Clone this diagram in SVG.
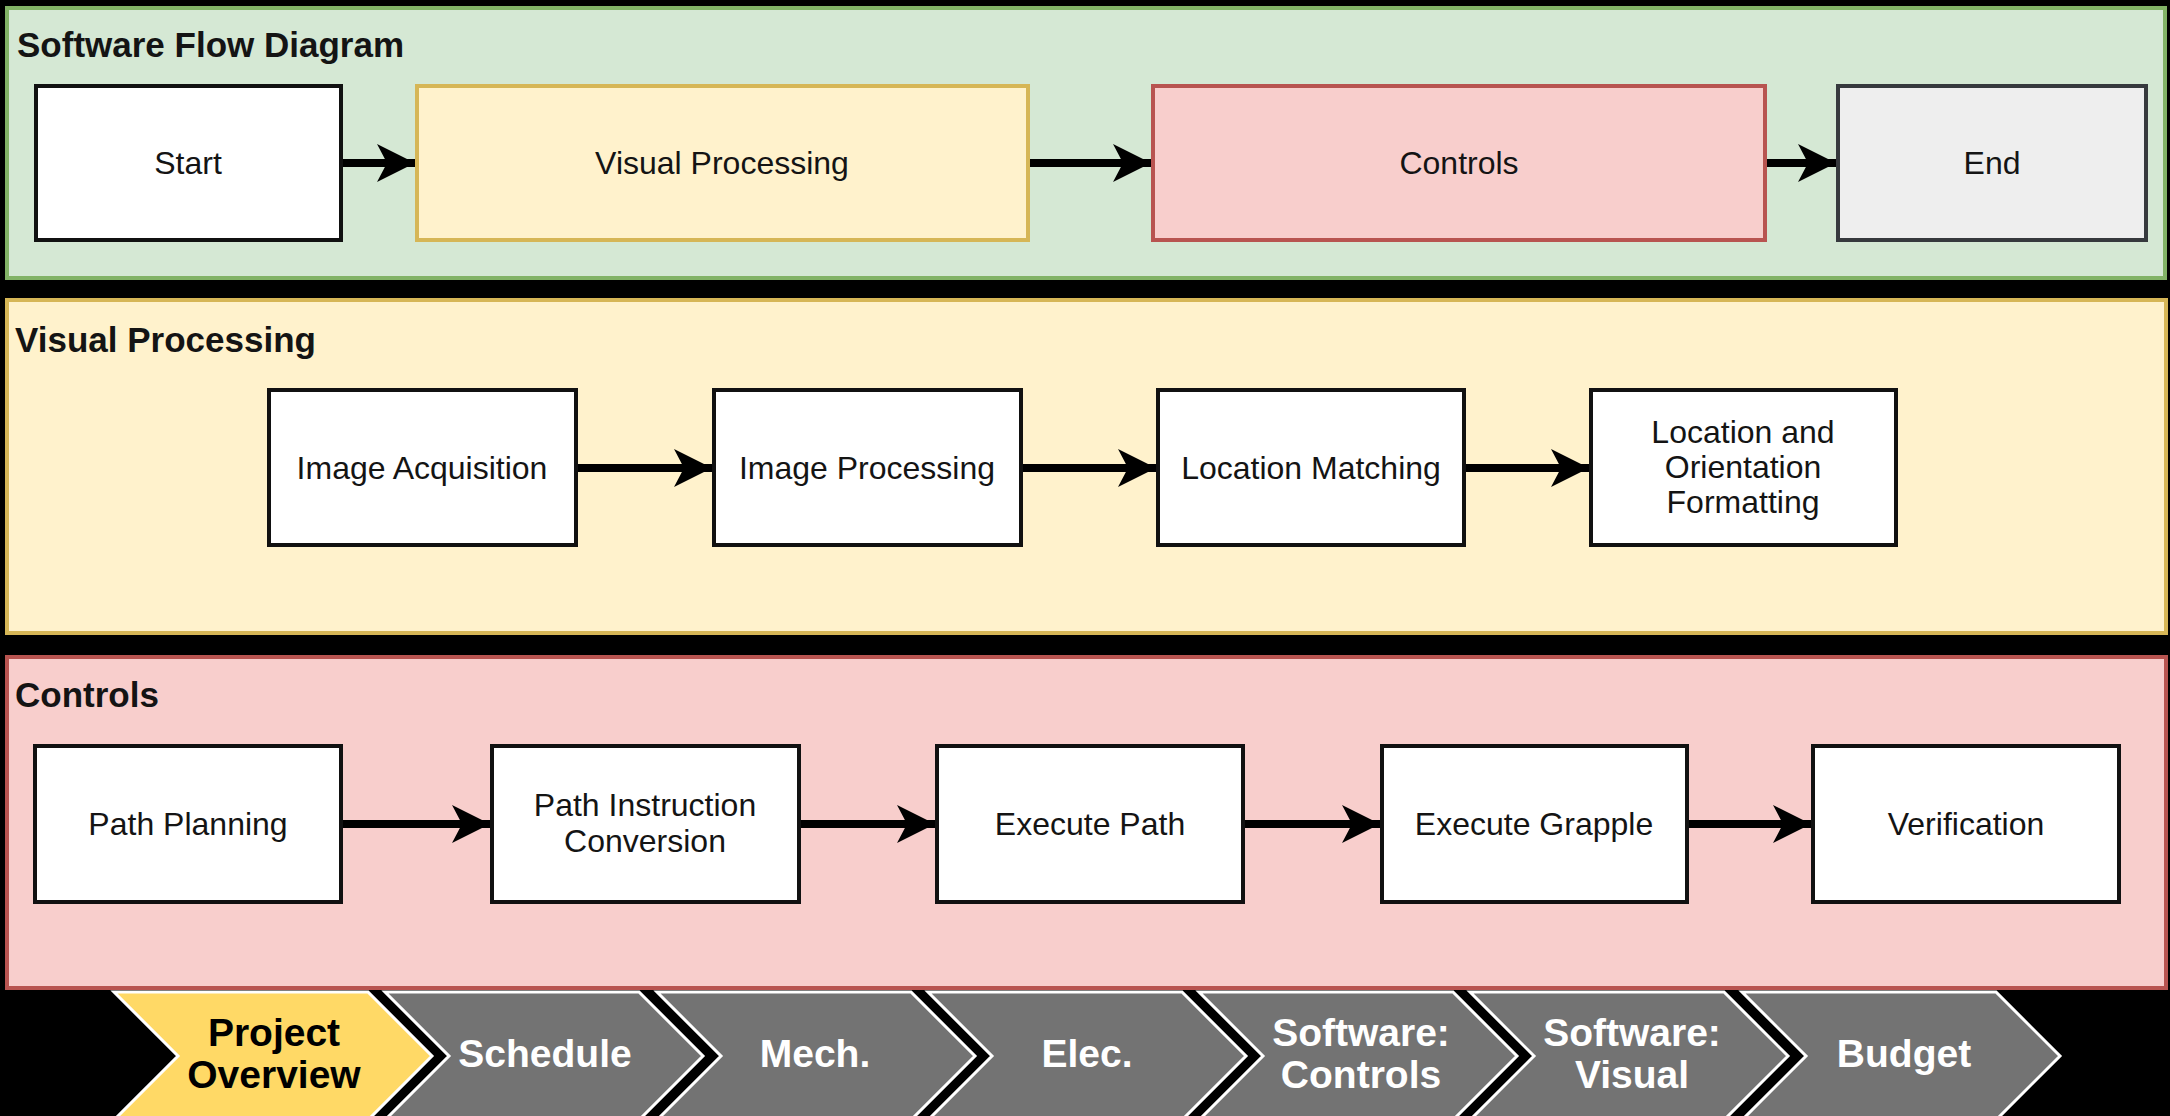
<svg xmlns="http://www.w3.org/2000/svg" width="2170" height="1116" viewBox="0 0 2170 1116">
  <style>
    .lbl { font-family: "Liberation Sans", Arial, sans-serif; font-size: 32px; fill: #141414; text-anchor: middle; }
    .ttl { font-family: "Liberation Sans", Arial, sans-serif; font-size: 35px; font-weight: bold; fill: #141414; }
    .box { fill: #ffffff; stroke: #111111; stroke-width: 4; }
    .edge { stroke: #000000; stroke-width: 8; fill: none; marker-end: url(#arrow); }
    .chev { stroke: #ffffff; stroke-width: 3; }
    .chev-on { fill: #ffd966; }
    .chev-off { fill: #737373; }
    .tab { font-family: "Liberation Sans", Arial, sans-serif; font-size: 39px; font-weight: bold; text-anchor: middle; fill: #ffffff; }
    .tab-on { fill: #000000; }
  </style>
  <defs>
    <marker id="arrow" markerUnits="userSpaceOnUse" markerWidth="40" markerHeight="40" viewBox="0 -20 40 40" refX="38" refY="0" orient="auto">
      <path d="M0,-19 L38,0 L0,19 L10,0 Z" fill="#000000"/>
    </marker>
  </defs>

  <rect x="0" y="0" width="2170" height="1116" fill="#000000"/>

  <!-- Top-level flow -->
  <g id="panel-flow">
    <rect x="7" y="8" width="2158" height="270" fill="#d5e8d4" stroke="#82b366" stroke-width="4"/>
    <text class="ttl" x="17" y="57">Software Flow Diagram</text>
  </g>
  <g id="node-start">
    <rect class="box" x="36" y="86" width="305" height="154"/>
    <text class="lbl" x="188" y="174">Start</text>
  </g>
  <g id="node-visual">
    <rect x="417" y="86" width="611" height="154" fill="#fff2cc" stroke="#d6b656" stroke-width="4"/>
    <text class="lbl" x="722" y="174">Visual Processing</text>
  </g>
  <g id="node-controls">
    <rect x="1153" y="86" width="612" height="154" fill="#f8cecc" stroke="#b85450" stroke-width="4"/>
    <text class="lbl" x="1459" y="174">Controls</text>
  </g>
  <g id="node-end">
    <rect x="1838" y="86" width="308" height="154" fill="#eeeeee" stroke="#36393d" stroke-width="4"/>
    <text class="lbl" x="1992" y="174">End</text>
  </g>

  <!-- Visual processing pipeline -->
  <g id="panel-visual">
    <rect x="7" y="300" width="2159" height="333" fill="#fff2cc" stroke="#d6b656" stroke-width="4"/>
    <text class="ttl" x="15" y="352">Visual Processing</text>
  </g>
  <g id="node-acquisition">
    <rect class="box" x="269" y="390" width="307" height="155"/>
    <text class="lbl" x="422" y="479">Image Acquisition</text>
  </g>
  <g id="node-imgproc">
    <rect class="box" x="714" y="390" width="307" height="155"/>
    <text class="lbl" x="867" y="479">Image Processing</text>
  </g>
  <g id="node-matching">
    <rect class="box" x="1158" y="390" width="306" height="155"/>
    <text class="lbl" x="1311" y="479">Location Matching</text>
  </g>
  <g id="node-formatting">
    <rect class="box" x="1591" y="390" width="305" height="155"/>
    <text class="lbl" x="1743" y="443">Location and</text>
    <text class="lbl" x="1743" y="478">Orientation</text>
    <text class="lbl" x="1743" y="513">Formatting</text>
  </g>

  <!-- Controls pipeline -->
  <g id="panel-controls">
    <rect x="7" y="657" width="2159" height="331" fill="#f8cecc" stroke="#b85450" stroke-width="4"/>
    <text class="ttl" x="15" y="707">Controls</text>
  </g>
  <g id="node-planning">
    <rect class="box" x="35" y="746" width="306" height="156"/>
    <text class="lbl" x="188" y="835">Path Planning</text>
  </g>
  <g id="node-conversion">
    <rect class="box" x="492" y="746" width="307" height="156"/>
    <text class="lbl" x="645" y="816">Path Instruction</text>
    <text class="lbl" x="645" y="852">Conversion</text>
  </g>
  <g id="node-execpath">
    <rect class="box" x="937" y="746" width="306" height="156"/>
    <text class="lbl" x="1090" y="835">Execute Path</text>
  </g>
  <g id="node-grapple">
    <rect class="box" x="1382" y="746" width="305" height="156"/>
    <text class="lbl" x="1534" y="835">Execute Grapple</text>
  </g>
  <g id="node-verify">
    <rect class="box" x="1813" y="746" width="306" height="156"/>
    <text class="lbl" x="1966" y="835">Verification</text>
  </g>

  <!-- Connectors -->
  <g id="connectors">
    <line class="edge" x1="343" y1="163" x2="415" y2="163"/>
    <line class="edge" x1="1030" y1="163" x2="1151" y2="163"/>
    <line class="edge" x1="1767" y1="163" x2="1836" y2="163"/>
    <line class="edge" x1="578" y1="468" x2="712" y2="468"/>
    <line class="edge" x1="1023" y1="468" x2="1156" y2="468"/>
    <line class="edge" x1="1466" y1="468" x2="1589" y2="468"/>
    <line class="edge" x1="343" y1="824" x2="490" y2="824"/>
    <line class="edge" x1="801" y1="824" x2="935" y2="824"/>
    <line class="edge" x1="1245" y1="824" x2="1380" y2="824"/>
    <line class="edge" x1="1689" y1="824" x2="1811" y2="824"/>
  </g>

  <!-- Section navigation chevrons -->
  <g id="nav">
    <g id="tab-overview">
      <polygon class="chev chev-on" points="114,992 368,992 432,1056 368,1120 114,1120 178,1056"/>
      <text class="tab tab-on" x="274" y="1046">Project</text>
      <text class="tab tab-on" x="274" y="1088">Overview</text>
    </g>
    <g id="tab-schedule">
      <polygon class="chev chev-off" points="385,992 639,992 703,1056 639,1120 385,1120 449,1056"/>
      <text class="tab" x="545" y="1067">Schedule</text>
    </g>
    <g id="tab-mech">
      <polygon class="chev chev-off" points="657,992 911,992 975,1056 911,1120 657,1120 721,1056"/>
      <text class="tab" x="815" y="1067">Mech.</text>
    </g>
    <g id="tab-elec">
      <polygon class="chev chev-off" points="928,992 1182,992 1246,1056 1182,1120 928,1120 992,1056"/>
      <text class="tab" x="1087" y="1067">Elec.</text>
    </g>
    <g id="tab-sw-controls">
      <polygon class="chev chev-off" points="1199,992 1453,992 1517,1056 1453,1120 1199,1120 1263,1056"/>
      <text class="tab" x="1361" y="1046">Software:</text>
      <text class="tab" x="1361" y="1088">Controls</text>
    </g>
    <g id="tab-sw-visual">
      <polygon class="chev chev-off" points="1470,992 1724,992 1788,1056 1724,1120 1470,1120 1534,1056"/>
      <text class="tab" x="1632" y="1046">Software:</text>
      <text class="tab" x="1632" y="1088">Visual</text>
    </g>
    <g id="tab-budget">
      <polygon class="chev chev-off" points="1742,992 1996,992 2060,1056 1996,1120 1742,1120 1806,1056"/>
      <text class="tab" x="1904" y="1067">Budget</text>
    </g>
  </g>
</svg>
